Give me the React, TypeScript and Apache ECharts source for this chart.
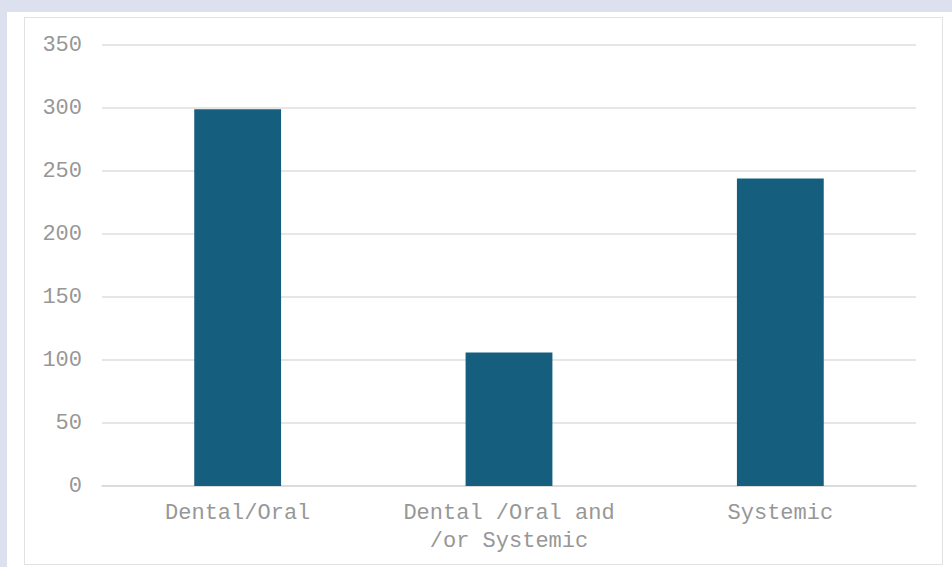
import React, { useEffect, useRef } from "react";
import * as echarts from "echarts";

const categories = ["Dental/Oral", "Dental /Oral and\n/or Systemic", "Systemic"];
const values = [299, 106, 244];
const yTicks = [0, 50, 100, 150, 200, 250, 300, 350];

export default function App() {
  const ref = useRef<HTMLDivElement>(null);
  useEffect(() => {
    const chart = echarts.init(ref.current!, null, { renderer: "svg" });
    chart.setOption({
      animation: false,
      backgroundColor: "transparent",
      grid: { left: 102, right: 36, top: 45, bottom: 81, containLabel: false },
      xAxis: {
        type: "category",
        data: categories,
        axisTick: { show: false },
        axisLine: { show: true, lineStyle: { color: "#d9d9d9", width: 1.5 } },
        axisLabel: {
          interval: 0,
          hideOverlap: false,
          color: "#979797",
          fontFamily: "Liberation Mono, Courier New, monospace",
          fontSize: 22,
          lineHeight: 28,
          margin: 13,
        },
      },
      yAxis: {
        type: "value",
        min: yTicks[0],
        max: yTicks[yTicks.length - 1],
        interval: 50,
        axisLine: { show: false },
        axisTick: { show: false },
        splitLine: { lineStyle: { color: "#dedede", width: 1.5 } },
        axisLabel: {
          color: "#979797",
          fontFamily: "Liberation Mono, Courier New, monospace",
          fontSize: 22,
          margin: 20,
        },
      },
      series: [
        {
          type: "bar",
          data: values,
          barWidth: "32%",
          itemStyle: { color: "#155e7e" },
        },
      ],
    });
    return () => chart.dispose();
  }, []);

  return (
    <div style={{ position: "fixed", inset: 0, background: "#dde1ef" }}>
      <div
        style={{
          position: "absolute",
          left: 7,
          top: 12,
          width: 945,
          height: 555,
          background: "#ffffff",
        }}
      />
      <div
        style={{
          position: "absolute",
          left: 24,
          top: 17,
          width: 919,
          height: 548,
          border: "1.5px solid #e2e2e2",
          boxSizing: "border-box",
        }}
      />
      <div ref={ref} style={{ position: "absolute", left: 0, top: 0, width: 952, height: 567 }} />
    </div>
  );
}
